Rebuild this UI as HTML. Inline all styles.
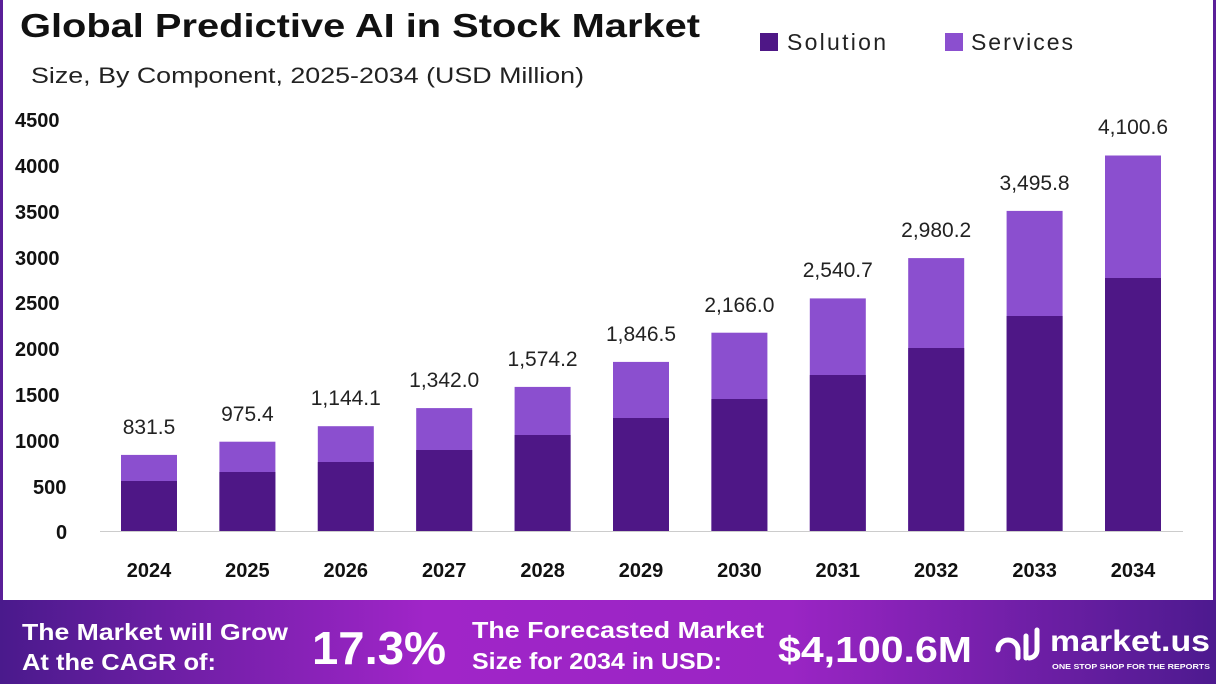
<!DOCTYPE html>
<html><head><meta charset="utf-8"><style>
body{margin:0;width:1216px;height:684px;overflow:hidden;background:#fff;font-family:"Liberation Sans",sans-serif}
</style></head><body>
<svg width="1216" height="684" viewBox="0 0 1216 684" xmlns="http://www.w3.org/2000/svg" font-family="Liberation Sans, sans-serif">
<defs>
<linearGradient id="bg" x1="0" x2="1" y1="0" y2="0">
<stop offset="0" stop-color="#4a1a8c"/>
<stop offset="0.35" stop-color="#a025c8"/>
<stop offset="0.65" stop-color="#9a25c4"/>
<stop offset="1" stop-color="#4d1a8f"/>
</linearGradient>
</defs>
<rect x="0" y="0" width="3" height="600" fill="#5a1f98"/>
<rect x="1213" y="0" width="3" height="600" fill="#5a1f98"/>
<text x="20" y="37" font-size="33" font-weight="bold" fill="#111" textLength="680" lengthAdjust="spacingAndGlyphs">Global Predictive AI in Stock Market</text>
<text x="31" y="83" font-size="22" fill="#222" textLength="553" lengthAdjust="spacingAndGlyphs">Size, By Component, 2025-2034 (USD Million)</text>
<rect x="760" y="33" width="18" height="18" fill="#4e1786"/>
<text x="787" y="50" font-size="23" fill="#222" textLength="99">Solution</text>
<rect x="945" y="33" width="18" height="18" fill="#8b4fcf"/>
<text x="971" y="50" font-size="23" fill="#222" textLength="102">Services</text>
<g font-size="20" font-weight="bold" fill="#111">
<text x="15" y="127">4500</text><text x="15" y="173">4000</text><text x="15" y="219">3500</text>
<text x="15" y="265">3000</text><text x="15" y="310">2500</text><text x="15" y="356">2000</text>
<text x="15" y="402">1500</text><text x="15" y="448">1000</text><text x="33" y="494">500</text>
<text x="56" y="539">0</text>
</g>
<line x1="100" y1="531.5" x2="1183" y2="531.5" stroke="#ccc" stroke-width="1"/>
<g fill="#8b4fcf">
<rect x="121" y="454.9" width="56" height="76.1"/>
<rect x="219.4" y="441.7" width="56" height="89.3"/>
<rect x="317.8" y="426.2" width="56" height="104.8"/>
<rect x="416.2" y="408.1" width="56" height="122.9"/>
<rect x="514.6" y="386.9" width="56" height="144.1"/>
<rect x="613" y="361.9" width="56" height="169.1"/>
<rect x="711.4" y="332.7" width="56" height="198.3"/>
<rect x="809.8" y="298.4" width="56" height="232.6"/>
<rect x="908.2" y="258.1" width="56" height="272.9"/>
<rect x="1006.6" y="210.9" width="56" height="320.1"/>
<rect x="1105" y="155.5" width="56" height="375.5"/>
</g>
<g fill="#4e1786">
<rect x="121" y="481" width="56" height="50"/>
<rect x="219.4" y="472" width="56" height="59"/>
<rect x="317.8" y="462" width="56" height="69"/>
<rect x="416.2" y="450" width="56" height="81"/>
<rect x="514.6" y="435" width="56" height="96"/>
<rect x="613" y="418" width="56" height="113"/>
<rect x="711.4" y="399" width="56" height="132"/>
<rect x="809.8" y="375" width="56" height="156"/>
<rect x="908.2" y="348" width="56" height="183"/>
<rect x="1006.6" y="316" width="56" height="215"/>
<rect x="1105" y="278" width="56" height="253"/>
</g>
<g font-size="21" fill="#222" text-anchor="middle">
<text x="149" y="434">831.5</text>
<text x="247.4" y="421">975.4</text>
<text x="345.8" y="405">1,144.1</text>
<text x="444.2" y="387">1,342.0</text>
<text x="542.6" y="366">1,574.2</text>
<text x="641" y="341">1,846.5</text>
<text x="739.4" y="312">2,166.0</text>
<text x="837.8" y="277">2,540.7</text>
<text x="936.2" y="237">2,980.2</text>
<text x="1034.6" y="190">3,495.8</text>
<text x="1133" y="134">4,100.6</text>
</g>
<g font-size="20" font-weight="bold" fill="#111" text-anchor="middle">
<text x="149" y="577">2024</text><text x="247.4" y="577">2025</text><text x="345.8" y="577">2026</text>
<text x="444.2" y="577">2027</text><text x="542.6" y="577">2028</text><text x="641" y="577">2029</text>
<text x="739.4" y="577">2030</text><text x="837.8" y="577">2031</text><text x="936.2" y="577">2032</text>
<text x="1034.6" y="577">2033</text><text x="1133" y="577">2034</text>
</g>
<rect x="0" y="600" width="1216" height="84" fill="url(#bg)"/>
<g fill="#fff" font-weight="bold">
<text x="22" y="640" font-size="23" textLength="266" lengthAdjust="spacingAndGlyphs">The Market will Grow</text>
<text x="22" y="670" font-size="23" textLength="194" lengthAdjust="spacingAndGlyphs">At the CAGR of:</text>
<text x="312" y="664" font-size="46" textLength="134" lengthAdjust="spacingAndGlyphs">17.3%</text>
<text x="472" y="638" font-size="23" textLength="292" lengthAdjust="spacingAndGlyphs">The Forecasted Market</text>
<text x="472" y="669" font-size="23" textLength="250" lengthAdjust="spacingAndGlyphs">Size for 2034 in USD:</text>
<text x="778" y="662" font-size="36" textLength="194" lengthAdjust="spacingAndGlyphs">$4,100.6M</text>
<text x="1050" y="651" font-size="30" textLength="160" lengthAdjust="spacingAndGlyphs">market.us</text>
<text x="1052" y="669" font-size="7" textLength="158" lengthAdjust="spacingAndGlyphs">ONE STOP SHOP FOR THE REPORTS</text>
</g>
<g fill="none" stroke="#fff" stroke-width="5" stroke-linecap="round">
<path d="M998 650 a10 10 0 0 1 20 0 v8"/><path d="M1026 636 v22"/><path d="M1037 630 v20 a8 8 0 0 1 -8 8"/>
</g>
</svg>
</body></html>
